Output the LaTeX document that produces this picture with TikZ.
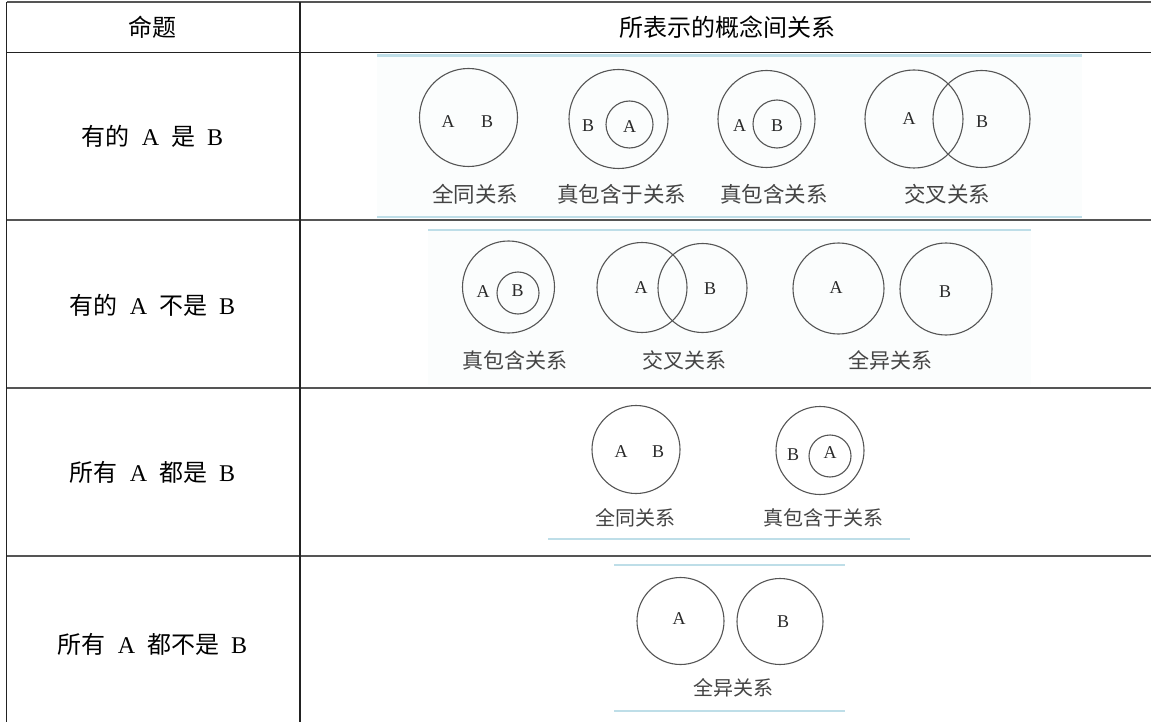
\documentclass[tikz,border=0pt]{standalone}
\usepackage{fontspec}
\setmainfont{Liberation Serif}
\newfontfamily\cjk{Noto Sans CJK SC}
\newcommand\zh[1]{{\cjk #1}}
\newcommand\gp{\hspace{0.5em}}
\definecolor{rule}{HTML}{222222}
\definecolor{vline}{HTML}{555555}
\definecolor{vtext}{HTML}{2A2A2A}
\definecolor{lbl}{HTML}{444444}
\definecolor{pale}{RGB}{190,222,232}
\definecolor{imgbg}{RGB}{251,253,253}
\begin{document}
\begin{tikzpicture}[x=1pt,y=-1pt,
  tline/.style={draw=rule,line width=1.4pt},
  celltext/.style={font=\fontsize{24}{28}\selectfont,text=black,inner sep=0pt},
  venn/.style={draw=vline,line width=1.1pt,circle,inner sep=0pt,minimum size=#1},
  ab/.style={font=\fontsize{18}{20}\selectfont,text=vtext,inner sep=0pt},
  lab/.style={font={\cjk\fontsize{#1}{#1}\selectfont},text=lbl,inner sep=0pt},
  paleline/.style={draw=pale,line width=2.6pt}
]
\useasboundingbox (0,0) rectangle (1151,722);
\fill[white] (0,0) rectangle (1151,722);

% picture backgrounds
\fill[imgbg] (377,54) rectangle (1082,218);
\fill[imgbg] (428,229) rectangle (1031,385);

% pale blue rules of the pictures
\draw[paleline] (377,55.5) coordinate (p1a) -- (1082,55.5) coordinate (p1b);
\draw[paleline,line width=1.6pt] (377,217) coordinate (p1c) -- (1082,217) coordinate (p1d);
\draw[paleline,line width=2pt] (428,230.5) coordinate (p2a) -- (1031,230.5) coordinate (p2b);
\draw[paleline,line width=2pt] (548,539) coordinate (p3a) -- (910,539) coordinate (p3b);
\draw[paleline,line width=2pt] (614,565) coordinate (p4a) -- (845,565) coordinate (p4b);
\draw[paleline,line width=2pt] (614,711) coordinate (p4c) -- (845,711) coordinate (p4d);

% table rules
\coordinate (tl) at (6.5,2.5);
\coordinate (tr) at (1170,2.5);
\draw[tline,draw=vline,line width=2pt] (tl) -- (tr);
\draw[tline] (6.5,52.3) -- (1170,52.3);
\draw[tline,draw=vline,line width=1.8pt] (6.5,220) -- (1170,220);
\draw[tline,draw=vline,line width=1.8pt] (6.5,388) -- (1170,388);
\draw[tline,draw=vline,line width=1.8pt] (6.5,556) -- (1170,556);
\draw[tline,line width=1.3pt] (6.5,2.5) -- (6.5,740);
\draw[tline,line width=1.3pt] (300,2.5) -- (300,740);

% header
\node[celltext] (h1) at (152,27) {\zh{命题}};
\node[celltext] (h2) at (727,27) {\zh{所表示的概念间关系}};

% left column
\node[celltext] (t1) at (152.5,136) {\zh{有的}\gp A\gp\zh{是}\gp B};
\node[celltext] (t2) at (152.5,305) {\zh{有的}\gp A\gp\zh{不是}\gp B};
\node[celltext] (t3) at (152.5,472) {\zh{所有}\gp A\gp\zh{都是}\gp B};
\node[celltext] (t4) at (152.5,644) {\zh{所有}\gp A\gp\zh{都不是}\gp B};

% ---- row 1 ----
\node[venn=98pt] (r1c1) at (468.5,117.5) {};
\node[ab] (r1c1a) at (448,122) {A};
\node[ab] (r1c1b) at (487,122) {B};
\node[lab=21.5] (r1l1) at (475,194) {全同关系};

\node[venn=99pt] (r1c2) at (618.5,119) {};
\node[venn=47pt] (r1c2i) at (629.5,124.5) {};
\node[ab] (r1c2b) at (588,126) {B};
\node[ab] (r1c2a) at (629.5,127) {A};
\node[lab=21.5] (r1l2) at (621.5,194) {真包含于关系};

\node[venn=97pt] (r1c3) at (766.5,119) {};
\node[venn=48pt] (r1c3i) at (777,124) {};
\node[ab] (r1c3a) at (739.5,126) {A};
\node[ab] (r1c3b) at (777,126) {B};
\node[lab=21.5] (r1l3) at (774,194) {真包含关系};

\node[venn=98pt] (r1c4) at (914,119) {};
\node[venn=97pt] (r1c5) at (981.5,119) {};
\node[ab] (r1c4a) at (909,119) {A};
\node[ab] (r1c5b) at (982,122) {B};
\node[lab=21.5] (r1l4) at (947,194) {交叉关系};

% ---- row 2 ----
\node[venn=92pt] (r2c1) at (508.5,287) {};
\node[venn=42pt] (r2c1i) at (518,293) {};
\node[ab] (r2c1a) at (483,292) {A};
\node[ab] (r2c1b) at (517.5,291) {B};
\node[lab=21] (r2l1) at (515,360) {真包含关系};

\node[venn=90pt] (r2c2) at (642,287.5) {};
\node[venn=89pt] (r2c3) at (702.5,288) {};
\node[ab] (r2c2a) at (641,288) {A};
\node[ab] (r2c3b) at (710,289) {B};
\node[lab=21] (r2l2) at (684,360) {交叉关系};

\node[venn=91pt] (r2c4) at (838.5,288.5) {};
\node[venn=92pt] (r2c5) at (946,289) {};
\node[ab] (r2c4a) at (836,288) {A};
\node[ab] (r2c5b) at (945,292) {B};
\node[lab=21] (r2l3) at (890,360) {全异关系};

% ---- row 3 ----
\node[venn=88pt] (r3c1) at (636,449.5) {};
\node[ab] (r3c1a) at (621,452) {A};
\node[ab] (r3c1b) at (658,452) {B};
\node[lab=20] (r3l1) at (635,518) {全同关系};

\node[venn=88pt] (r3c2) at (820,450.5) {};
\node[venn=42pt] (r3c2i) at (830,456) {};
\node[ab] (r3c2b) at (793,455) {B};
\node[ab] (r3c2a) at (830,453) {A};
\node[lab=20] (r3l2) at (823,518) {真包含于关系};

% ---- row 4 ----
\node[venn=87pt] (r4c1) at (680.5,621) {};
\node[venn=86pt] (r4c2) at (780,621.5) {};
\node[ab] (r4c1a) at (679,619) {A};
\node[ab] (r4c2b) at (783,622) {B};
\node[lab=20] (r4l1) at (733,688) {全异关系};
\end{tikzpicture}
\end{document}
